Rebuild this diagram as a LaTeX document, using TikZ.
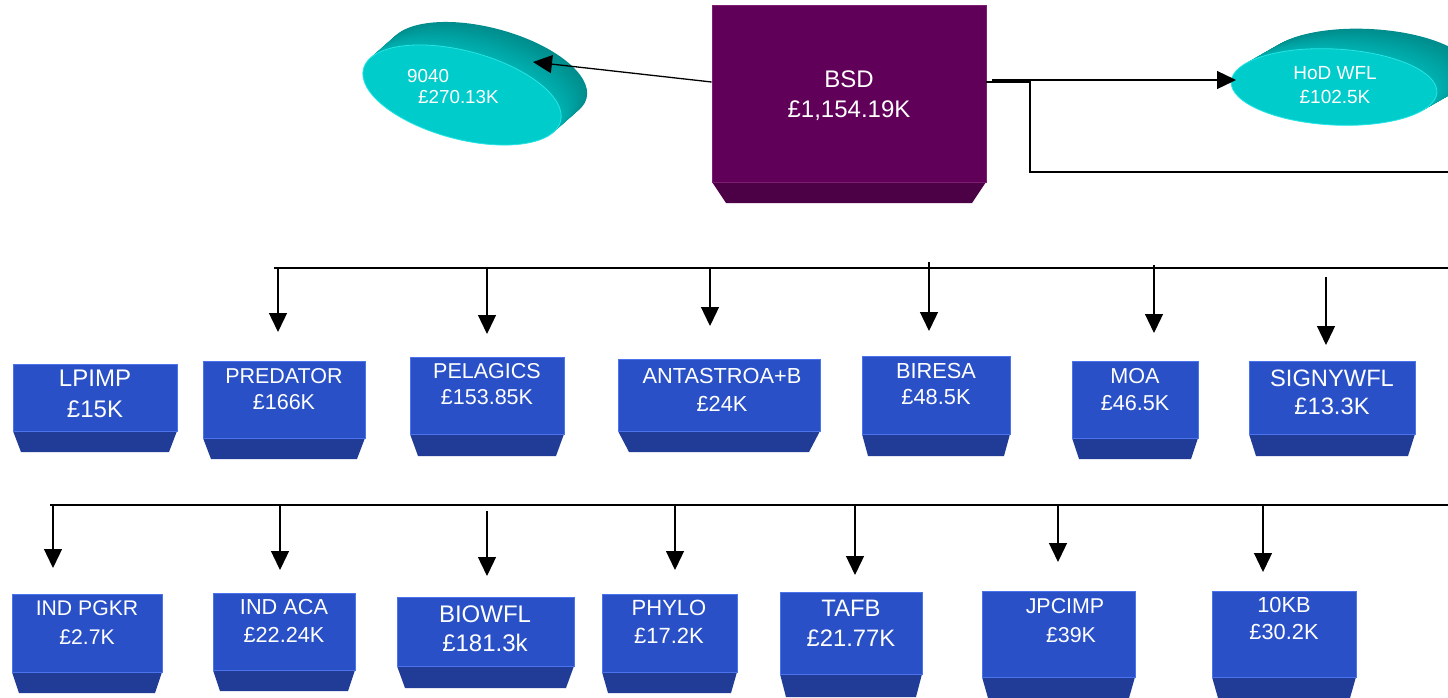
\documentclass[tikz,border=0pt]{standalone}
\usepackage{fontspec}
\setmainfont{Liberation Sans}
\usetikzlibrary{arrows.meta,shapes.geometric}
\definecolor{boxface}{RGB}{41,80,198}
\definecolor{boxedge}{RGB}{75,115,235}
\definecolor{boxtrap}{RGB}{33,60,150}
\definecolor{bsdface}{RGB}{96,0,88}
\definecolor{bsdedge}{RGB}{125,30,115}
\definecolor{bsdtrap}{RGB}{76,0,70}
\definecolor{cyfront}{RGB}{0,204,204}
\definecolor{cyedge}{RGB}{40,228,228}
\definecolor{cyback}{RGB}{0,140,140}
\definecolor{cyside}{RGB}{0,178,178}

% name x1 y1 x2 y2 ybot inset colour-prefix
\newcommand\obox[8]{%
  \fill[#8trap] ({#2+#7},#6) -- ({#4-#7},#6) -- (#4,#5) -- (#2,#5) -- cycle;
  \node[draw=#8edge, line width=0.8pt, fill=#8face, inner sep=0pt,
        minimum width={(#4-#2)*1pt}, minimum height={(#5-#3)*1pt}]
        (#1) at ({(#2+#4)/2},{(#3+#5)/2}) {};
}
% cx cy rx ry rot dx dy : extrusion of a disc
\newcommand\discside[7]{%
  \foreach \i in {30,29,...,1}{%
    \pgfmathtruncatemacro\pc{100*\i/30}%
    \fill[cyback!\pc!cyside, shift={({#1+#6*\i/30},{#2+#7*\i/30})}, rotate=#5]
      (0,0) ellipse [x radius=#3pt, y radius=#4pt];
  }%
}

\tikzset{
  lbl/.style={text=white, align=center, inner sep=0pt},
  arr/.style={line width=1.3pt, -{Triangle[length=19pt,width=18pt]}},
  bus/.style={line width=1.7pt},
  link/.style={line width=1.3pt},
  discfront/.style={ellipse, fill=cyfront, draw=cyedge, line width=0.8pt, inner sep=0pt}
}

\begin{document}
\begin{tikzpicture}[x=1pt,y=-1pt]
\useasboundingbox (0,0) rectangle (1448,697);
\fill[white] (0,0) rectangle (1448,697);
\clip (0,0) rectangle (1448,697);

% ---- discs ----
\discside{462}{95}{102}{44}{-15}{26}{-23}
\node[discfront, rotate=-15, minimum width=204pt, minimum height=88pt] (d9040) at (462,95) {};
\node[text=white, anchor=west, inner sep=0pt, font=\fontsize{18.8}{22}\selectfont] (d9040a) at (407,76) {9040};
\node[text=white, anchor=west, inner sep=0pt, font=\fontsize{18.8}{22}\selectfont] (d9040b) at (418,97) {£270.13K};

\discside{1334}{87}{103}{38}{-3}{35}{-20}
\node[discfront, rotate=-3, minimum width=206pt, minimum height=76pt] (hod) at (1334,87) {};
\node[lbl, font=\fontsize{19}{24.5}\selectfont] (hodt) at (1335,85.25) {HoD WFL\\£102.5K};

% ---- BSD ----
\obox{bsd}{712}{5}{986}{182}{203}{14}{bsd}
\node[lbl, font=\fontsize{24}{30}\selectfont] (bsdt) at (849,96) {BSD\\£1,154.19K};

% ---- connectors from BSD ----
\coordinate (in9040) at (533,62);
\coordinate (inhod) at (1236,80);
\coordinate (offR) at (1448,172);
\draw[arr] ([yshift=11.5pt]bsd.west) -- (in9040);
\draw[arr] ([xshift=6pt,yshift=13.5pt]bsd.east) -- (inhod);
\draw[link] ([yshift=11.5pt]bsd.east) -- (1030,82) |- (offR);

% ---- row 1 ----
\obox{lpimp}{13}{364}{177}{431}{452}{8}{box}
\node[lbl, font=\fontsize{24}{31}\selectfont] (lpimpt) at (95,393.5) {LPIMP\\£15K};
\obox{pred}{203}{361}{365}{438}{459}{8}{box}
\node[lbl, font=\fontsize{21.5}{26}\selectfont] (predt) at (284,389) {PREDATOR\\£166K};
\obox{pel}{410}{357}{564}{434}{456}{8}{box}
\node[lbl, font=\fontsize{21.5}{26}\selectfont] (pelt) at (487,384) {PELAGICS\\£153.85K};
\obox{ant}{618}{359}{820}{431}{452}{11}{box}
\node[lbl, font=\fontsize{21.8}{28}\selectfont] (antt) at (722,390) {ANTASTROA+B\\£24K};
\obox{bir}{862}{356}{1010}{434}{456}{6}{box}
\node[lbl, font=\fontsize{21.8}{26}\selectfont] (birt) at (936,384) {BIRESA\\£48.5K};
\obox{moa}{1072}{361}{1198}{438}{459}{7}{box}
\node[lbl, font=\fontsize{21.6}{27}\selectfont] (moat) at (1135,389.5) {MOA\\£46.5K};
\obox{sig}{1249}{361}{1415}{434}{456}{7}{box}
\node[lbl, font=\fontsize{23.7}{28}\selectfont] (sigt) at (1332,392) {SIGNYWFL\\£13.3K};

% ---- row 2 ----
\obox{indp}{12}{594}{162}{672}{693}{7}{box}
\node[lbl, font=\fontsize{21.2}{29}\selectfont] (indpt) at (87,622.5) {IND PGKR\\£2.7K};
\obox{inda}{213}{593}{355}{670}{691}{7}{box}
\node[lbl, font=\fontsize{21.7}{28}\selectfont] (indat) at (284,621) {IND ACA\\£22.24K};
\obox{bio}{397}{597}{574}{666}{688}{8}{box}
\node[lbl, font=\fontsize{24}{29}\selectfont] (biot) at (485,628.5) {BIOWFL\\£181.3k};
\obox{phy}{602}{594}{737}{672}{693}{6}{box}
\node[lbl, font=\fontsize{22}{28}\selectfont] (phyt) at (669,622) {PHYLO\\£17.2K};
\obox{tafb}{780}{592}{922}{674}{697}{6}{box}
\node[lbl, font=\fontsize{23.8}{30}\selectfont] (tafbt) at (851,623) {TAFB\\£21.77K};
\obox{jpc}{982}{591}{1135}{677}{705}{8}{box}
\node[lbl, font=\fontsize{21.4}{29}\selectfont] (jpct) at (1065,620.5) {JPCIMP\\\hspace*{12pt}£39K};
\obox{tenkb}{1212}{591}{1356}{677}{705}{8}{box}
\node[lbl, font=\fontsize{21.8}{27}\selectfont] (tenkbt) at (1284,618.5) {10KB\\£30.2K};

% ---- bus lines ----
\coordinate (busAL) at (274,268);
\coordinate (busAR) at (1448,268);
\coordinate (busBL) at (50,505);
\coordinate (busBR) at (1448,505);
\draw[bus] (busAL) -- (busAR);
\draw[bus] (busBL) -- (busBR);
\foreach \x/\a/\b [count=\k] in {278/268/332, 487/268/334, 710/268/326, 929/262/331, 1154/265/333, 1326/277/345}{
  \coordinate (dA\k s) at (\x,\a);
  \coordinate (dA\k e) at (\x,\b);
  \draw[arr] (dA\k s) -- (dA\k e);
}
\foreach \x/\a/\b [count=\k] in {53/505/568, 280/505/570, 487/511/576, 675/505/570, 855/505/575, 1058/505/562, 1263/505/572}{
  \coordinate (dB\k s) at (\x,\a);
  \coordinate (dB\k e) at (\x,\b);
  \draw[arr] (dB\k s) -- (dB\k e);
}
\end{tikzpicture}
\end{document}
